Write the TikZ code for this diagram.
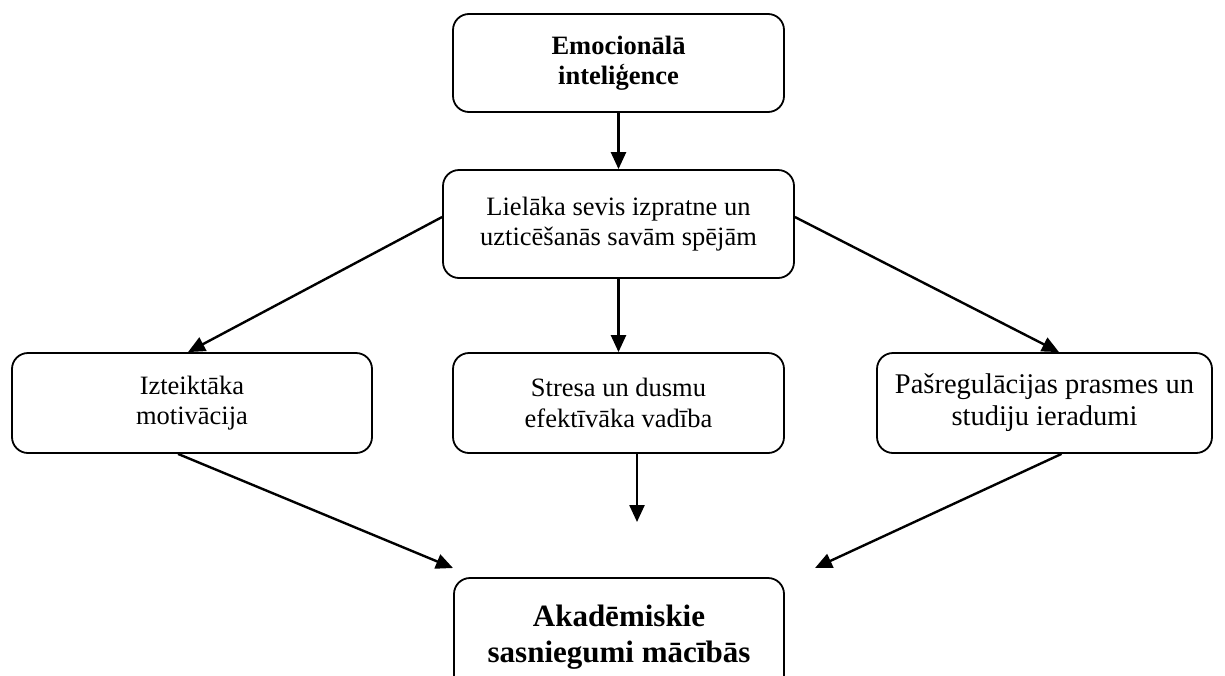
\documentclass[tikz,border=0pt]{standalone}
\usepackage{fontspec}
\setmainfont{Liberation Serif}
\usetikzlibrary{arrows.meta}
\begin{document}
\begin{tikzpicture}[x=1pt,y=-1pt,
  box/.style={draw, line width=1.8pt, rounded corners=16pt, align=center,
    inner sep=0pt, font=\fontsize{26.5}{30.5}\selectfont},
  link/.style={line width=2.4pt, -{Triangle[length=17pt,width=15pt]}}]
\useasboundingbox (0,0) rectangle (1225,675);
\clip (0,0) rectangle (1225,675);

% boxes
\node[box, minimum width=331pt, minimum height=98pt,
  font=\bfseries\fontsize{26.5}{29.5}\selectfont] (ei) at (618.5,63)
  {Emocionālā\\inteliģence};
\node[box, minimum width=351pt, minimum height=108pt] (self) at (618.5,224)
  {Lielāka sevis izpratne un\\uzticēšanās savām spējām};
\node[box, minimum width=360pt, minimum height=100pt] (motiv) at (192,403)
  {Izteiktāka\\motivācija};
\node[box, minimum width=331pt, minimum height=100pt] (stress) at (618.5,403)
  {Stresa un dusmu\\efektīvāka vadība};
\node[box, minimum width=335pt, minimum height=100pt,
  font=\fontsize{28.5}{32}\selectfont] (habits) at (1044.5,403)
  {Pašregulācijas prasmes un\\studiju ieradumi};
\node[box, minimum width=330pt, minimum height=118pt,
  font=\bfseries\fontsize{31}{36}\selectfont] (acad) at (619,637)
  {Akadēmiskie\\sasniegumi mācībās};

% free arrow ends above the bottom box
\coordinate (inL) at (453,568);
\coordinate (inM) at (637,522);
\coordinate (inR) at (815,568);

% connectors
\draw[link] (ei.south) -- (self.north);
\draw[link] ([yshift=7pt]self.west) -- ([xshift=-4pt]motiv.north);
\draw[link] (self.south) -- (stress.north);
\draw[link] ([yshift=7pt]self.east) -- ([xshift=14.5pt]habits.north);
\draw[link] ([xshift=-14pt]motiv.south) -- (inL);
\draw[link] ([xshift=18.5pt]stress.south) -- (inM);
\draw[link] ([xshift=17pt]habits.south) -- (inR);
\end{tikzpicture}
\end{document}
